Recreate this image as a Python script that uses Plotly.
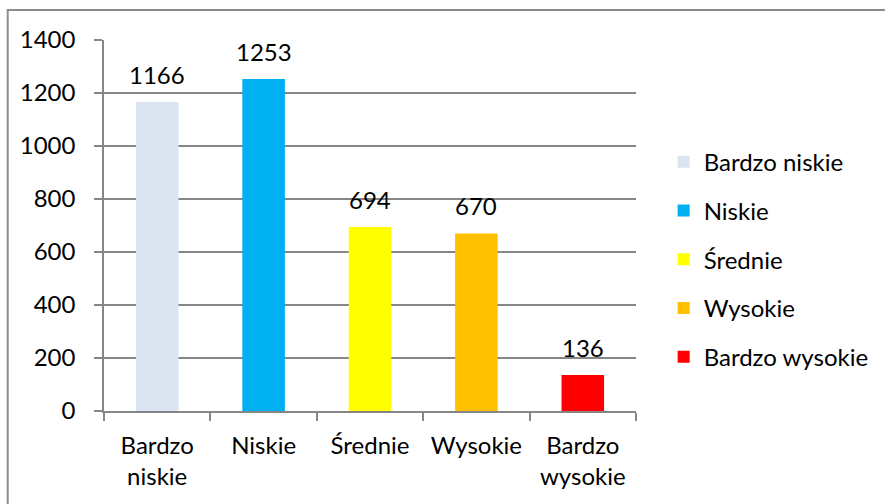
import plotly.graph_objects as go

# Liczba obserwacji w poszczególnych klasach
categories = ["Bardzo niskie", "Niskie", "Średnie", "Wysokie", "Bardzo wysokie"]
tick_labels = ["Bardzo<br>niskie", "Niskie", "Średnie", "Wysokie", "Bardzo<br>wysokie"]
values = [1166, 1253, 694, 670, 136]
colors = ["#DBE5F1", "#00B0F0", "#FFFF00", "#FFC000", "#FF0000"]

FONT = "Lato"
FS = 24

fig = go.Figure()
for i, (cat, val, col) in enumerate(zip(categories, values, colors)):
    fig.add_trace(go.Bar(
        x=[tick_labels[i]], y=[val], name=cat, marker_color=col,
        marker_line_width=0, width=0.4, legendgroup=f"g{i}",
    ))
    fig.add_annotation(
        x=tick_labels[i], y=val, text=str(val), showarrow=False,
        yanchor="bottom", yshift=11, font=dict(family=FONT, size=FS, color="#000"),
    )

# Ramka wokół całego wykresu
fig.add_shape(type="rect", xref="paper", yref="paper",
              x0=-0.181, x1=1.47, y0=-0.26, y1=1.081,
              line=dict(color="#8C8C8C", width=2), fillcolor="rgba(0,0,0,0)",
              layer="below")

fig.update_layout(
    width=885, height=504,
    margin=dict(l=104, r=248, t=40, b=93),
    paper_bgcolor="white", plot_bgcolor="white",
    barmode="relative",
    font=dict(family=FONT, size=FS, color="#000"),
    showlegend=True,
    legend=dict(x=1.05, xanchor="left", y=0.409, yanchor="middle",
                tracegroupgap=14.5, font=dict(family=FONT, size=FS, color="#000"),
                bgcolor="rgba(0,0,0,0)"),
)
fig.update_xaxes(
    type="category", categoryorder="array", categoryarray=tick_labels,
    showline=True, linecolor="#868686", linewidth=1.5,
    ticks="outside", tickson="boundaries", ticklen=8, tickcolor="#868686", tickwidth=1.5,
    showgrid=False, ticklabelstandoff=12, tickfont=dict(family=FONT, size=FS),
)
fig.update_yaxes(
    range=[0, 1400], dtick=200, tickformat="d",
    showline=True, linecolor="#868686", linewidth=1.5,
    ticks="outside", ticklen=8, tickcolor="#868686", tickwidth=1.5,
    showgrid=True, gridcolor="#868686", gridwidth=1.5,
    zeroline=False, ticklabelstandoff=14, tickfont=dict(family=FONT, size=FS),
)

fig.write_html("out.html")
